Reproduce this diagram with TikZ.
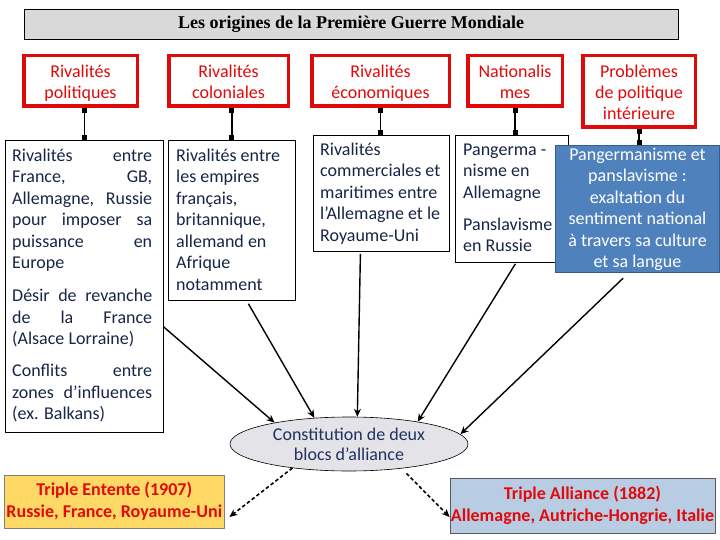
\documentclass[tikz,border=0pt]{standalone}
\usepackage{fontspec}
\setmainfont{Carlito}
\newfontfamily\titlefont{Liberation Serif}
\usetikzlibrary{arrows.meta,shapes.geometric}
\definecolor{navy}{RGB}{23,37,70}
\definecolor{ellnavy}{RGB}{31,50,95}
\definecolor{hdred}{RGB}{225,10,10}
\definecolor{bxblue}{RGB}{79,129,189}
\definecolor{bxblueborder}{RGB}{56,93,138}
\definecolor{entfill}{RGB}{255,217,102}
\definecolor{allfill}{RGB}{184,204,228}
\definecolor{titlefill}{RGB}{217,217,217}
\definecolor{ellfill}{RGB}{228,228,232}
\newcommand\bxfont{\fontsize{18}{21.5}\selectfont}
\newcommand\rdfont{\fontsize{18}{21}\selectfont}
\newcommand\tops{\rule{0pt}{20.5pt}}
\newcommand\jl[1]{\makebox[140pt][s]{#1}}
\tikzset{
  redbox/.style={draw=hdred, line width=3.5pt, fill=white, align=center,
    font=\rdfont, text=hdred, inner sep=0pt},
  tbox/.style={draw=black, line width=0.8pt, fill=white, inner sep=0pt, anchor=north west},
  txt/.style={anchor=north west, inner sep=0pt, align=left, font=\bxfont, text=navy},
  link/.style={draw=black, line width=1.6pt,
    {Square[length=5pt,width=5pt]}-{Square[length=5pt,width=5pt]}},
  feed/.style={draw=black, line width=1.4pt, -{Stealth[length=8pt,width=7pt]}},
  split/.style={draw=black, line width=1.6pt, dash pattern=on 3.5pt off 2.5pt,
    -{Stealth[length=8pt,width=7pt]}},
  allybox/.style={line width=0.8pt, inner sep=0pt, align=center,
    font=\fontsize{18}{22}\selectfont\bfseries, text=hdred}
}
\begin{document}
\begin{tikzpicture}[x=1pt,y=-1pt]
\useasboundingbox (0,0) rectangle (720,540);
\fill[white] (0,0) rectangle (720,540);

% title
\node[draw=black, line width=0.8pt, fill=titlefill, minimum width=654pt, minimum height=30pt,
  inner sep=0pt, font=\titlefont\fontsize{18}{20}\selectfont\bfseries] (title) at (351,24)
  {Les origines de la Première Guerre Mondiale};

% red headers
\node[redbox, minimum width=113.5pt, minimum height=50.5pt] (r1) at (80.5,81) {\tops Rivalités\\politiques\strut};
\node[redbox, minimum width=119.5pt, minimum height=50.5pt] (r2) at (228.5,81) {\tops Rivalités\\coloniales\strut};
\node[redbox, minimum width=137.5pt, minimum height=50.5pt] (r3) at (380.5,81) {\tops Rivalités\\économiques\strut};
\node[redbox, minimum width=94.5pt, minimum height=50.5pt] (r4) at (515,81) {\tops Nationalis\\mes\strut};
\node[redbox, minimum width=112.5pt, minimum height=71.5pt] (r5) at (639,91.5) {\tops Problèmes\\de politique\\intérieure\strut};

% text boxes
\node[tbox, minimum width=158pt, minimum height=292pt] (A) at (5,140) {};
\node[tbox, minimum width=127pt, minimum height=160pt] (B) at (168,140) {};
\node[tbox, minimum width=136pt, minimum height=116pt] (C) at (313,135) {};
\node[tbox, minimum width=113pt, minimum height=127pt] (D) at (455,135) {};

\node[txt] (tA) at (12,146) {\strut\jl{Rivalités entre}\\
\jl{France, GB,}\\
\jl{Allemagne, Russie}\\
\jl{pour imposer sa}\\
\jl{puissance en}\\
Europe\\[11.5pt]
\jl{Désir de revanche}\\
\jl{de la France}\\
(Alsace Lorraine)\\[10.5pt]
\jl{Conflits entre}\\
\jl{zones d’influences}\\
(ex. Balkans)};

\node[txt] (tB) at (176,146) {\strut Rivalités entre\\les empires\\français,\\britannique,\\allemand en\\Afrique\\notamment};
\node[txt] (tC) at (320,140) {\strut Rivalités\\commerciales et\\maritimes entre\\l’Allemagne et le\\Royaume-Uni};
\node[txt] (tD) at (463,140) {\strut Pangerma -\\nisme en\\Allemagne\\[10.5pt]Panslavisme\\en Russie};

\node[tbox, draw=bxblueborder, line width=1.2pt, fill=bxblue, minimum width=164pt, minimum height=127pt] (E) at (555,145) {};
\node[txt, anchor=north, align=center, text=white] (tE) at (637.5,145)
  {\strut Pangermanisme et\\panslavisme :\\exaltation du\\sentiment national\\à travers sa culture\\et sa langue};

% header connectors
\draw[link] (r1.south -| A.north) -- (A.north);
\draw[link] (r2.south -| B.north) -- (B.north);
\draw[link] (r3.south) -- (r3.south |- C.north);
\draw[link] (r4.south) -- (r4.south |- D.north);
\draw[link] (r5.south) -- (r5.south |- E.north);

% ellipse
\node[ellipse, draw=black, line width=0.6pt, fill=ellfill, minimum width=238pt, minimum height=54pt,
  inner sep=0pt, align=center, font=\fontsize{18}{20}\selectfont, text=ellnavy] (ell) at (349,444)
  {Constitution de deux\\blocs d’alliance};

% arrows into ellipse
\draw[feed] ([yshift=-187pt]A.north east) -- (ell.164);
\draw[feed] ([xshift=16.5pt,yshift=-3pt]B.south) -- (ell.143);
\draw[feed] ([xshift=-21pt,yshift=-2pt]C.south) -- (ell.73);
\draw[feed] ([xshift=3.5pt,yshift=-1pt]D.south) -- (ell.18);
\draw[feed] ([xshift=-14.5pt,yshift=-5pt]E.south) -- (ell.5);

% alliances
\node[allybox, draw={rgb,255:red,128;green,128;blue,128}, fill=entfill, minimum width=219.4pt, minimum height=53pt]
  (T1) at (114.3,501.5) {Triple Entente (1907)\\Russie, France, Royaume-Uni};
\node[allybox, draw={rgb,255:red,90;green,90;blue,90}, fill=allfill, minimum width=265pt, minimum height=55pt]
  (T2) at (582.5,505.5) {Triple Alliance (1882)\\Allemagne, Autriche-Hongrie, Italie};

\draw[split] (ell.203) -- ([xshift=5pt,yshift=-15.5pt]T1.east);
\draw[split, shorten <=7pt] (ell.335) -- ([yshift=-11.5pt]T2.west);
\end{tikzpicture}
\end{document}
